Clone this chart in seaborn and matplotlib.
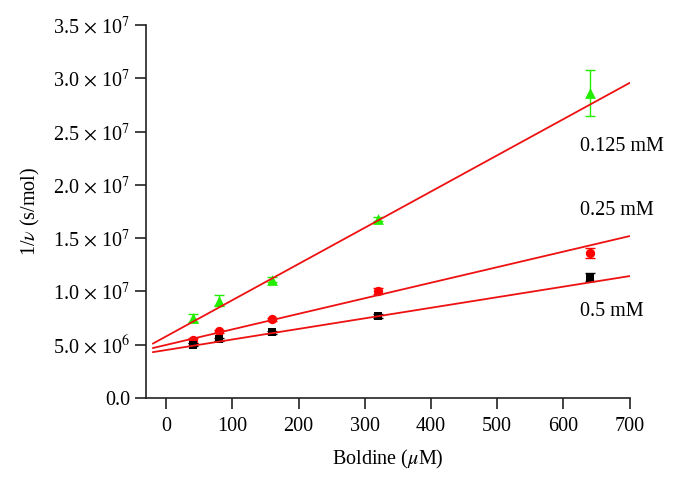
import numpy as np
import pandas as pd
import matplotlib
matplotlib.use("Agg")
import matplotlib.pyplot as plt
import seaborn as sns

sns.set_theme(style="ticks")
plt.rcParams["font.family"] = ["Liberation Serif", "DejaVu Serif"]
plt.rcParams["mathtext.fontset"] = "stix"
plt.rcParams["text.color"] = "black"
plt.rcParams["axes.labelcolor"] = "black"
plt.rcParams["xtick.color"] = "black"
plt.rcParams["ytick.color"] = "black"

# Data (1/v values in units of 1e6 s/mol)
boldine = [40, 80, 160, 320, 640]
y_0125 = [7.5, 9.15, 11.1, 16.8, 28.6]
err_0125 = [0.35, 0.5, 0.25, 0.2, 2.15]
y_025 = [5.4, 6.25, 7.4, 10.05, 13.6]
err_025 = [0.2, 0.15, 0.15, 0.3, 0.45]
y_05 = [5.0, 5.5, 6.15, 7.7, 11.35]
err_05 = [0.15, 0.15, 0.15, 0.15, 0.35]

# fitted lines (slope per uM, intercept), units 1e6
fit_slope = [0.0340, 0.0146, 0.00992]
fit_intercept = [5.78, 4.98, 4.50]
fit_range = [-20, 700]
labels = ["0.125 mM", "0.25 mM", "0.5 mM"]
label_y = [23.6, 17.6, 8.1]

series = [(y_0125, err_0125, "#22ee00", "^", 60),
          (y_025, err_025, "#ff0000", "o", 45),
          (y_05, err_05, "#000000", "s", 40)]

fig = plt.figure(figsize=(6.83, 4.83), dpi=100)
ax = fig.add_axes([0.214, 0.176, 0.708, 0.772])

for i, (yv, ev, col, mk, sz) in enumerate(series):
    yv = np.array(yv) * 1e6
    ev = np.array(ev) * 1e6
    ax.errorbar(boldine, yv, yerr=ev, fmt="none", ecolor=col, elinewidth=1, capsize=3.5, zorder=2)
    sns.scatterplot(x=boldine, y=yv, marker=mk, color=col, s=sz, edgecolor=col, linewidth=0, ax=ax, zorder=3)
    fx = np.array(fit_range, dtype=float)
    fy = (fit_slope[i] * fx + fit_intercept[i]) * 1e6
    sns.lineplot(x=fx, y=fy, color="#ee1111", linewidth=1.3, ax=ax, zorder=4)
    ax.text(625, label_y[i] * 1e6, labels[i], fontsize=14.5, va="center", ha="left")

ax.set_xlim(-30, 700)
ax.set_ylim(0, 3.5e7)
ax.set_xticks(range(0, 701, 100))
yt = np.arange(0, 3.51e7, 5e6)
ax.set_yticks(yt)
ylabels = ["0.0"]
for v in yt[1:]:
    e = int(np.floor(np.log10(v)))
    ylabels.append(f"{v / 10**e:.1f} $\\times$ 10$^{{{e}}}$")
ax.set_yticklabels(ylabels)

ax.set_xlabel("Boldine ($\\mu$M)", fontsize=14.5, labelpad=8)
ax.set_ylabel("1/$\\nu$ (s/mol)", fontsize=14.5, labelpad=8)
ax.tick_params(axis="both", labelsize=14.5, length=8, width=1.2, color="#222222", direction="out")
ax.tick_params(axis="x", pad=6)
for s in ["top", "right"]:
    ax.spines[s].set_visible(False)
for s in ["left", "bottom"]:
    ax.spines[s].set_linewidth(1.2)
    ax.spines[s].set_color("#222222")

fig.savefig("out.png", dpi=100)
